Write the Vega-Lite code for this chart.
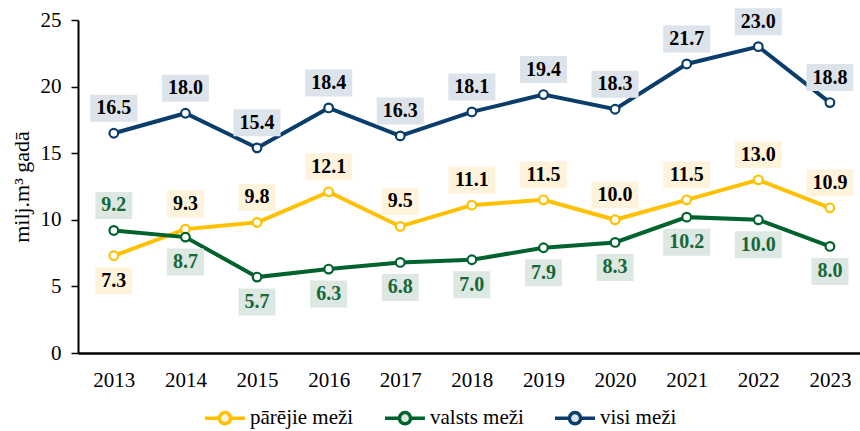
{
  "$schema": "https://vega.github.io/schema/vega-lite/v6.json",
  "width": 782,
  "height": 333,
  "autosize": {"type": "none"},
  "padding": {"left": 78, "top": 20, "right": 0, "bottom": 78},
  "background": "white",
  "config": {"font": "Liberation Serif", "view": {"stroke": null}},
  "data": {
    "values": [
      {"series": "pārējie meži", "year": 2013, "value": 7.3},
      {"series": "pārējie meži", "year": 2014, "value": 9.3},
      {"series": "pārējie meži", "year": 2015, "value": 9.8},
      {"series": "pārējie meži", "year": 2016, "value": 12.1},
      {"series": "pārējie meži", "year": 2017, "value": 9.5},
      {"series": "pārējie meži", "year": 2018, "value": 11.1},
      {"series": "pārējie meži", "year": 2019, "value": 11.5},
      {"series": "pārējie meži", "year": 2020, "value": 10.0},
      {"series": "pārējie meži", "year": 2021, "value": 11.5},
      {"series": "pārējie meži", "year": 2022, "value": 13.0},
      {"series": "pārējie meži", "year": 2023, "value": 10.9},
      {"series": "valsts meži", "year": 2013, "value": 9.2},
      {"series": "valsts meži", "year": 2014, "value": 8.7},
      {"series": "valsts meži", "year": 2015, "value": 5.7},
      {"series": "valsts meži", "year": 2016, "value": 6.3},
      {"series": "valsts meži", "year": 2017, "value": 6.8},
      {"series": "valsts meži", "year": 2018, "value": 7.0},
      {"series": "valsts meži", "year": 2019, "value": 7.9},
      {"series": "valsts meži", "year": 2020, "value": 8.3},
      {"series": "valsts meži", "year": 2021, "value": 10.2},
      {"series": "valsts meži", "year": 2022, "value": 10.0},
      {"series": "valsts meži", "year": 2023, "value": 8.0},
      {"series": "visi meži", "year": 2013, "value": 16.5},
      {"series": "visi meži", "year": 2014, "value": 18.0},
      {"series": "visi meži", "year": 2015, "value": 15.4},
      {"series": "visi meži", "year": 2016, "value": 18.4},
      {"series": "visi meži", "year": 2017, "value": 16.3},
      {"series": "visi meži", "year": 2018, "value": 18.1},
      {"series": "visi meži", "year": 2019, "value": 19.4},
      {"series": "visi meži", "year": 2020, "value": 18.3},
      {"series": "visi meži", "year": 2021, "value": 21.7},
      {"series": "visi meži", "year": 2022, "value": 23.0},
      {"series": "visi meži", "year": 2023, "value": 18.8}
    ]
  },
  "layer": [
    {
      "mark": {
        "type": "line",
        "strokeWidth": 4,
        "point": {"filled": false, "fill": "white", "size": 75, "strokeWidth": 2.2}
      },
      "encoding": {
        "x": {
          "field": "year",
          "type": "quantitative",
          "scale": {"domain": [2012.5, 2023.42], "nice": false, "zero": false},
          "axis": {
            "title": null,
            "values": [2013, 2014, 2015, 2016, 2017, 2018, 2019, 2020, 2021, 2022, 2023],
            "format": "d",
            "grid": false,
            "ticks": false,
            "tickSize": 0,
            "domainColor": "black",
            "domainWidth": 2.5,
            "labelFont": "Liberation Serif",
            "labelFontSize": 21,
            "labelColor": "black",
            "labelPadding": 16,
            "labelFlush": false
          }
        },
        "y": {
          "field": "value",
          "type": "quantitative",
          "scale": {"domain": [0, 25], "nice": false},
          "axis": {
            "title": "milj.m³ gadā",
            "values": [0, 5, 10, 15, 20, 25],
            "grid": false,
            "domainColor": "black",
            "domainWidth": 2,
            "tickColor": "black",
            "tickSize": 7,
            "tickWidth": 1.5,
            "labelFont": "Liberation Serif",
            "labelFontSize": 21,
            "labelColor": "black",
            "labelPadding": 10,
            "titleFont": "Liberation Serif",
            "titleFontSize": 22,
            "titleFontWeight": "normal",
            "titleColor": "black",
            "titlePadding": 7
          }
        },
        "color": {
          "field": "series",
          "type": "nominal",
          "scale": {
            "domain": ["pārējie meži", "valsts meži", "visi meži"],
            "range": ["#ffc000", "#00632e", "#0b3d6b"]
          },
          "legend": {
            "title": null,
            "orient": "none",
            "legendX": 125,
            "legendY": 376,
            "direction": "horizontal",
            "symbolType": "M-1,0H-0.28M0.28,0H1M0.28,0A0.28,0.28,0,1,1,-0.28,0A0.28,0.28,0,1,1,0.28,0",
            "symbolSize": 1600,
            "symbolStrokeWidth": 3.5,
            "symbolFillColor": "white",
            "labelFont": "Liberation Serif",
            "labelFontSize": 21,
            "labelColor": "black",
            "labelOffset": 3,
            "columnPadding": 24
          }
        }
      }
    },
    {
      "transform": [
        {"filter": "datum.series == 'visi meži' || (datum.series == 'pārējie meži' && datum.year != 2013) || (datum.series == 'valsts meži' && datum.year == 2013)"}
      ],
      "layer": [
        {
          "mark": {"type": "point", "filled": true, "opacity": 1, "yOffset": -25, "size": 4, "strokeWidth": 0},
          "encoding": {
            "x": {"field": "year", "type": "quantitative"},
            "y": {"field": "value", "type": "quantitative"},
            "shape": {
              "condition": {"test": "datum.value >= 10", "value": "M-23.5,-13.5H23.5V13.5H-23.5Z"},
              "value": "M-18.5,-13.5H18.5V13.5H-18.5Z"
            },
            "fill": {
              "field": "series",
              "type": "nominal",
              "scale": {
                "domain": ["pārējie meži", "valsts meži", "visi meži"],
                "range": ["#fff3dc", "#dce8e1", "#dde3ea"]
              },
              "legend": null
            }
          }
        },
        {
          "mark": {"type": "text", "fontWeight": "bold", "fontSize": 20, "font": "Liberation Serif", "yOffset": -25, "baseline": "middle"},
          "encoding": {
            "x": {"field": "year", "type": "quantitative"},
            "y": {"field": "value", "type": "quantitative"},
            "text": {"field": "value", "type": "quantitative", "format": ".1f"},
            "color": {
              "condition": {"test": "datum.series == 'valsts meži'", "value": "#16673a"},
              "value": "black"
            }
          }
        }
      ]
    },
    {
      "transform": [
        {"filter": "!(datum.series == 'visi meži' || (datum.series == 'pārējie meži' && datum.year != 2013) || (datum.series == 'valsts meži' && datum.year == 2013))"}
      ],
      "layer": [
        {
          "mark": {"type": "point", "filled": true, "opacity": 1, "yOffset": 25, "size": 4, "strokeWidth": 0},
          "encoding": {
            "x": {"field": "year", "type": "quantitative"},
            "y": {"field": "value", "type": "quantitative"},
            "shape": {
              "condition": {"test": "datum.value >= 10", "value": "M-23.5,-13.5H23.5V13.5H-23.5Z"},
              "value": "M-18.5,-13.5H18.5V13.5H-18.5Z"
            },
            "fill": {
              "field": "series",
              "type": "nominal",
              "scale": {
                "domain": ["pārējie meži", "valsts meži", "visi meži"],
                "range": ["#fff3dc", "#dce8e1", "#dde3ea"]
              },
              "legend": null
            }
          }
        },
        {
          "mark": {"type": "text", "fontWeight": "bold", "fontSize": 20, "font": "Liberation Serif", "yOffset": 25, "baseline": "middle"},
          "encoding": {
            "x": {"field": "year", "type": "quantitative"},
            "y": {"field": "value", "type": "quantitative"},
            "text": {"field": "value", "type": "quantitative", "format": ".1f"},
            "color": {
              "condition": {"test": "datum.series == 'valsts meži'", "value": "#16673a"},
              "value": "black"
            }
          }
        }
      ]
    }
  ]
}
